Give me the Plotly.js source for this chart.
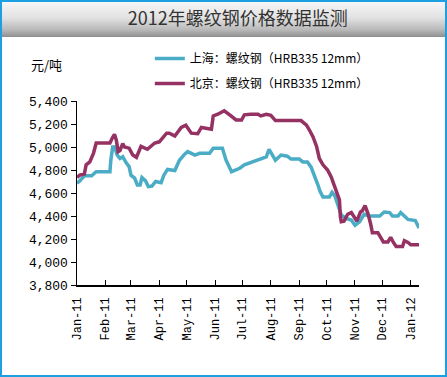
<!DOCTYPE html>
<html>
<head>
<meta charset="utf-8">
<script src="https://cdn.plot.ly/plotly-3.0.1.min.js"></script>
<style>
html,body{margin:0;padding:0;background:#fff;}
#frame{position:absolute;left:0;top:0;width:447px;height:377px;box-sizing:border-box;border:2px solid #1ba1e2;background:#fff;}
#band{position:absolute;left:2px;top:2px;width:443px;height:35px;background:linear-gradient(to bottom,#f6f6f6 0%,#e2e2e2 45%,#b8b8b8 80%,#8e8e8e 100%);}
#chart{position:absolute;left:0;top:0;width:447px;height:377px;}
</style>
</head>
<body>
<div id="frame"></div>
<div id="band"></div>
<div id="chart"></div>
<script>
// 上海：螺纹钢（HRB335 12mm）
const shDates = ['2011-01-01','2011-01-04','2011-01-09','2011-01-17','2011-01-22','2011-02-06','2011-02-07','2011-02-09','2011-02-11','2011-02-14','2011-02-17','2011-02-20','2011-02-24','2011-02-27','2011-03-01','2011-03-05','2011-03-08','2011-03-11','2011-03-13','2011-03-17','2011-03-20','2011-03-24','2011-03-28','2011-04-03','2011-04-06','2011-04-10','2011-04-18','2011-04-23','2011-04-29','2011-05-02','2011-05-10','2011-05-15','2011-05-26','2011-05-30','2011-06-09','2011-06-13','2011-06-19','2011-06-28','2011-07-03','2011-07-10','2011-07-19','2011-07-27','2011-07-30','2011-08-03','2011-08-06','2011-08-12','2011-08-19','2011-08-23','2011-09-01','2011-09-05','2011-09-10','2011-09-14','2011-09-18','2011-09-21','2011-09-24','2011-09-27','2011-10-04','2011-10-07','2011-10-10','2011-10-13','2011-10-17','2011-10-22','2011-10-28','2011-11-01','2011-11-06','2011-11-11','2011-11-17','2011-11-28','2011-12-03','2011-12-09','2011-12-12','2011-12-18','2011-12-21','2011-12-25','2011-12-29','2012-01-06','2012-01-09','2012-01-10'];
const shValues = [4685,4705,4750,4750,4785,4785,4885,5000,5000,4930,4900,4915,4860,4830,4755,4730,4670,4670,4735,4705,4655,4660,4700,4690,4755,4805,4795,4885,4940,4960,4930,4945,4945,4990,4990,4885,4785,4815,4845,4865,4885,4915,4980,4930,4885,4930,4920,4895,4895,4870,4870,4825,4750,4680,4610,4565,4565,4605,4575,4510,4410,4380,4365,4320,4350,4415,4400,4400,4435,4430,4400,4400,4430,4400,4370,4360,4320,4295];
// 北京：螺纹钢（HRB335 12mm）
const bjDates = ['2011-01-01','2011-01-04','2011-01-09','2011-01-11','2011-01-15','2011-01-19','2011-01-22','2011-02-06','2011-02-09','2011-02-11','2011-02-13','2011-02-15','2011-02-17','2011-02-20','2011-02-22','2011-02-27','2011-03-03','2011-03-07','2011-03-12','2011-03-19','2011-03-27','2011-04-01','2011-04-09','2011-04-12','2011-04-18','2011-04-25','2011-04-30','2011-05-06','2011-05-13','2011-05-17','2011-05-28','2011-05-30','2011-06-04','2011-06-11','2011-06-17','2011-06-24','2011-06-30','2011-07-03','2011-07-10','2011-07-18','2011-07-21','2011-07-27','2011-08-01','2011-08-06','2011-09-03','2011-09-09','2011-09-12','2011-09-16','2011-09-20','2011-09-23','2011-09-27','2011-10-02','2011-10-06','2011-10-10','2011-10-13','2011-10-15','2011-10-16','2011-10-17','2011-10-20','2011-10-24','2011-10-28','2011-10-31','2011-11-03','2011-11-07','2011-11-09','2011-11-12','2011-11-15','2011-11-18','2011-11-20','2011-11-26','2011-11-29','2011-12-02','2011-12-07','2011-12-10','2011-12-13','2011-12-16','2011-12-23','2011-12-25','2011-12-29','2012-01-01','2012-01-10'];
const bjValues = [4735,4755,4765,4845,4870,4945,5035,5035,5085,5110,5060,4960,4970,5030,5000,4990,4930,4910,5005,4980,5035,5045,5120,5120,5095,5170,5190,5120,5115,5170,5155,5270,5285,5315,5280,5235,5235,5280,5285,5285,5270,5285,5275,5230,5230,5190,5150,5090,5005,4900,4845,4800,4740,4640,4585,4540,4395,4350,4355,4415,4430,4395,4355,4435,4445,4490,4425,4335,4255,4255,4220,4175,4175,4215,4170,4135,4135,4185,4170,4150,4150];
const seriesNames = ['上海：螺纹钢（HRB335 12mm）','北京：螺纹钢（HRB335 12mm）'];
const titleText = '2012年螺纹钢价格数据监测';
const unitText = '元/吨';

const traces = [
  {x: shDates, y: shValues, name: seriesNames[0], type: 'scatter', mode: 'lines',
   line: {color: '#4bacc6', width: 3.5}, legendgroup: 'a'},
  {x: bjDates, y: bjValues, name: seriesNames[1], type: 'scatter', mode: 'lines',
   line: {color: '#953163', width: 3.5}, legendgroup: 'b'}
];
const layout = {
  width: 447, height: 377,
  margin: {l: 77, r: 28, t: 101, b: 92},
  paper_bgcolor: 'rgba(0,0,0,0)', plot_bgcolor: 'rgba(0,0,0,0)',
  font: {family: '"Liberation Mono", "Noto Sans CJK SC", monospace', color: '#000'},
  title: {text: titleText, x: 0.47, xanchor: 'center', y: 0.95, yanchor: 'middle',
          xref: 'paper', yref: 'container',
          font: {family: '"Noto Sans CJK SC", serif', size: 18, color: '#333'}},
  showlegend: true,
  legend: {x: 0.213, xanchor: 'left', y: 1.31, yanchor: 'top', traceorder: 'grouped', tracegroupgap: 6,
           bgcolor: 'rgba(0,0,0,0)', font: {family: '"Noto Sans CJK SC", sans-serif', size: 12, color: '#000'}},
  xaxis: {type: 'date', range: ['2011-01-01', '2012-01-10'], tick0: '2011-01-01', dtick: 'M1',
          tickformat: '%b-%y', tickangle: -90, ticks: 'inside', ticklen: 5, tickcolor: '#000',
          ticklabelstandoff: 6,
          showline: true, linecolor: '#000', linewidth: 1.5, showgrid: false, zeroline: false,
          tickfont: {family: '"Liberation Mono", monospace', size: 12, color: '#000'}},
  yaxis: {range: [3800, 5400], dtick: 200, tick0: 3800, tickformat: ',.0f', ticks: 'outside', ticklen: 5,
          tickcolor: '#000', showline: true, linecolor: '#000', linewidth: 1.5, showgrid: false, zeroline: false,
          tickfont: {family: '"Liberation Mono", monospace', size: 13, color: '#000'}},
  annotations: [{text: unitText, xref: 'paper', yref: 'paper', x: -0.09, y: 1.196, showarrow: false,
                 xanchor: 'center', yanchor: 'middle',
                 font: {family: '"Noto Sans CJK SC", sans-serif', size: 13, color: '#000'}}]
};
Plotly.newPlot('chart', traces, layout, {displayModeBar: false, staticPlot: true});
</script>
</body>
</html>
